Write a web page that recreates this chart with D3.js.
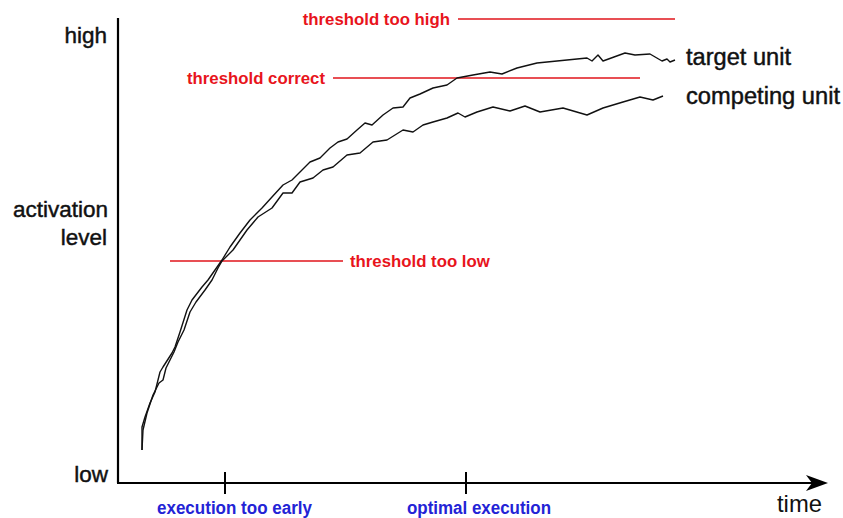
<!DOCTYPE html>
<html>
<head>
<meta charset="utf-8">
<script src="https://cdn.jsdelivr.net/npm/d3@7"></script>
<style>
  body { margin: 0; background: #fff; }
  svg { display: block; }
</style>
</head>
<body>
<svg class="chart"></svg>
<script>
const width = 843
const height = 518
const margin = { top: 18, right: 15, bottom: 35, left: 118 }

// time (arbitrary units) vs activation (arbitrary units)
const targetTime = [24, 24, 27, 32, 37, 40, 42, 45, 54, 57, 62, 69, 74, 84, 90, 97, 104, 112, 122, 132, 144, 154, 165, 174, 182, 192, 202, 212, 220, 229, 239, 247, 254, 265, 275, 285, 292, 302, 315, 329, 339, 355, 372, 384, 399, 419, 449, 469, 474, 480, 485, 507, 517, 532, 544, 549, 552, 557]
const targetAct = [33, 56, 66, 80, 91, 103, 111, 116, 130, 136, 151, 173, 183, 196, 203, 213, 223, 236, 250, 263, 275, 286, 298, 303, 311, 321, 325, 335, 341, 344, 353, 360, 358, 368, 375, 376, 385, 389, 395, 398, 405, 408, 411, 409, 415, 420, 423, 425, 422, 428, 422, 430, 428, 429, 422, 424, 421, 423]

const competingTime = [24, 25, 29, 35, 41, 45, 48, 56, 60, 66, 72, 78, 87, 94, 100, 104, 115, 129, 140, 154, 165, 174, 182, 195, 205, 215, 229, 242, 255, 269, 285, 295, 305, 315, 329, 340, 347, 359, 375, 392, 407, 422, 445, 469, 485, 505, 522, 535, 545]
const competingAct = [33, 53, 70, 88, 100, 103, 115, 131, 141, 153, 171, 181, 193, 203, 215, 222, 233, 253, 266, 275, 290, 290, 301, 305, 313, 316, 328, 330, 341, 343, 353, 351, 358, 361, 365, 370, 366, 371, 376, 372, 377, 371, 375, 368, 375, 381, 386, 383, 387]

const thresholdNames = ['threshold too high', 'threshold correct', 'threshold too low']
const thresholdLevels = [464, 405, 222]
const thresholdStart = [340, 215, 52]
const thresholdEnd = [557, 522, 225]

const tickNames = ['execution too early', 'optimal execution']
const tickTimes = [107, 348]

const seriesNames = ['target unit', 'competing unit']

const x = d3.scaleLinear().domain([0, 710]).range([margin.left, width - margin.right])
const y = d3.scaleLinear().domain([0, 465]).range([height - margin.bottom, margin.top])

const svg = d3.select('.chart').attr('width', width).attr('height', height)

const font = "'Liberation Sans', Arial, sans-serif"

// axes
svg.append('line')
  .attr('x1', x(0)).attr('x2', x(0))
  .attr('y1', y(465)).attr('y2', y(0))
  .attr('stroke', '#000').attr('stroke-width', 2.2)

svg.append('line')
  .attr('x1', x(0) - 1).attr('x2', x(700))
  .attr('y1', y(0)).attr('y2', y(0))
  .attr('stroke', '#000').attr('stroke-width', 2.2)

svg.append('path')
  .attr('d', `M${x(710)},${y(0)} L${x(688)},${y(0) - 8} L${x(694)},${y(0)} L${x(688)},${y(0) + 8} Z`)
  .attr('fill', '#000')

// ticks on time axis
svg.append('g')
  .selectAll('line')
  .data(tickTimes)
  .join('line')
  .attr('x1', d => x(d)).attr('x2', d => x(d))
  .attr('y1', y(0) - 11).attr('y2', y(0) + 11)
  .attr('stroke', '#000').attr('stroke-width', 2)

// condensed look via textLength (no narrow font installed)
svg.append('g')
  .selectAll('text')
  .data(tickNames)
  .join('text')
  .attr('x', (d, i) => x(tickTimes[i]) - (i === 0 ? 68 : 59))
  .attr('y', 514)
  .attr('fill', '#2323d6')
  .attr('font-family', font)
  .attr('font-weight', 'bold')
  .attr('font-size', 18)
  .attr('textLength', (d, i) => i === 0 ? 155 : 144)
  .attr('lengthAdjust', 'spacingAndGlyphs')
  .text(d => d)

// y labels
const yLabels = svg.append('g')
  .attr('font-family', font)
  .attr('font-size', 22.5)
  .attr('fill', '#111')
  .attr('stroke', '#111')
  .attr('stroke-width', 0.45)
  .attr('text-anchor', 'end')
yLabels.append('text').attr('x', 107).attr('y', 43).text('high')
yLabels.append('text').attr('x', 108).attr('y', 217).text('activation')
yLabels.append('text').attr('x', 107).attr('y', 245).text('level')
yLabels.append('text').attr('x', 108).attr('y', 482).text('low')

svg.append('text')
  .attr('x', 822).attr('y', 512)
  .attr('text-anchor', 'end')
  .attr('font-family', font)
  .attr('font-size', 24)
  .attr('fill', '#111')
  .attr('textLength', 45)
  .attr('lengthAdjust', 'spacingAndGlyphs')
  .text('time')

// thresholds
const th = svg.append('g')
th.selectAll('line')
  .data(thresholdLevels)
  .join('line')
  .attr('x1', (d, i) => x(thresholdStart[i])).attr('x2', (d, i) => x(thresholdEnd[i]))
  .attr('y1', d => y(d)).attr('y2', d => y(d))
  .attr('stroke', '#e0141b').attr('stroke-width', 1.6)

th.selectAll('text')
  .data(thresholdNames)
  .join('text')
  .attr('x', (d, i) => i === 2 ? x(thresholdEnd[i]) + 7 : x(thresholdStart[i]) - 8)
  .attr('y', (d, i) => y(thresholdLevels[i]) + 6)
  .attr('text-anchor', (d, i) => i === 2 ? 'start' : 'end')
  .attr('fill', '#e8141c')
  .attr('font-family', font)
  .attr('font-weight', 'bold')
  .attr('font-size', 16.8)
  .text(d => d)

// curves
const line = d3.line().x(d => x(d[0])).y(d => y(d[1]))
const target = targetTime.map((t, i) => [t, targetAct[i]])
const competing = competingTime.map((t, i) => [t, competingAct[i]])

svg.append('g')
  .attr('fill', 'none')
  .attr('stroke', '#111')
  .attr('stroke-width', 1.4)
  .attr('stroke-linejoin', 'round')
  .selectAll('path')
  .data([target, competing])
  .join('path')
  .attr('d', line)

svg.append('g')
  .attr('font-family', font)
  .attr('font-size', 23)
  .attr('fill', '#111')
  .attr('stroke', '#111')
  .attr('stroke-width', 0.45)
  .selectAll('text')
  .data(seriesNames)
  .join('text')
  .attr('x', 686)
  .attr('y', (d, i) => i === 0 ? 65 : 104)
  .attr('textLength', (d, i) => i === 0 ? 105 : 154)
  .attr('lengthAdjust', 'spacingAndGlyphs')
  .text(d => d)
</script>
</body>
</html>
